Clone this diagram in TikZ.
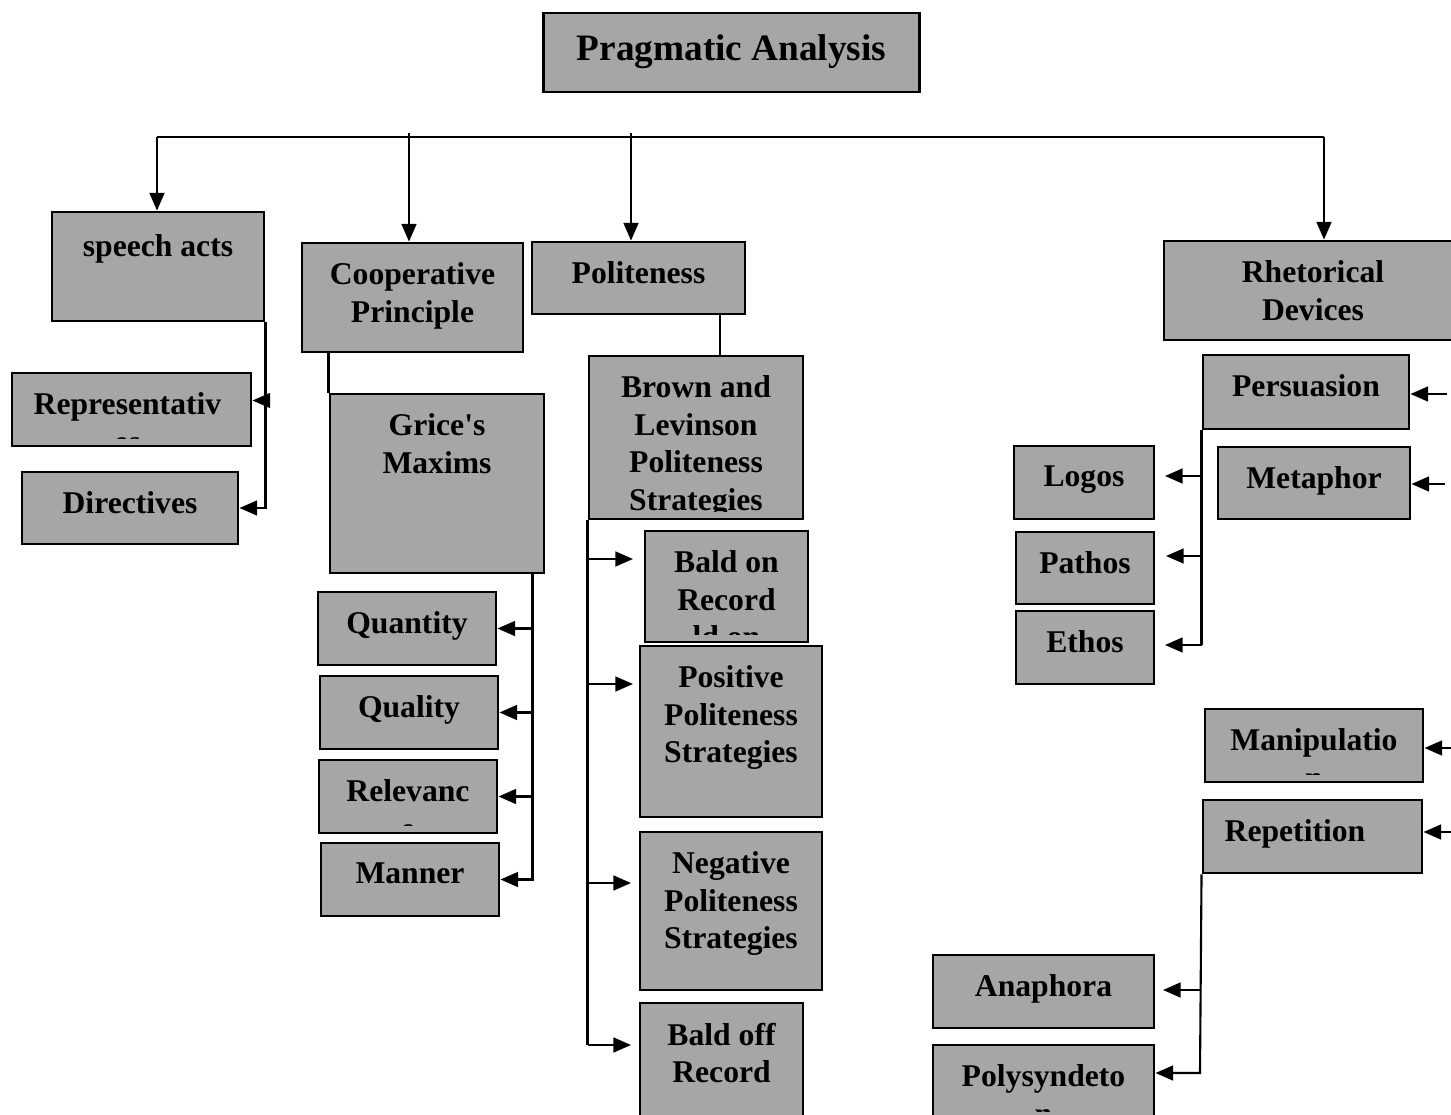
\documentclass[tikz,border=0pt]{standalone}
\usepackage{fontspec}
\setmainfont{Liberation Serif}
\usepackage{tikz}
\usetikzlibrary{arrows.meta}
\definecolor{boxgray}{RGB}{166,166,166}
\tikzset{
  box/.style={draw, fill=boxgray, line width=0.8pt, inner sep=0pt},
  boxtext/.style={font=\fontsize{9}{10.7}\selectfont\bfseries, align=center, inner sep=0pt, anchor=north},
  arr/.style={-{Triangle[length=5pt, width=4.2pt]}, line width=0.6pt},
  con/.style={line width=0.6pt}
}

\begin{document}
\begin{tikzpicture}[x=0.01cm, y=-0.01cm]
            \useasboundingbox (0,0) rectangle (1451,1115);
            \clip (0,0) rectangle (1451,1115);

            % Boxes
            \node[box, minimum width=3.75cm, minimum height=0.79cm] (pragma) at (731.5,52.5) {};
            \node[box, minimum width=2.12cm, minimum height=1.09cm] (speech) at (158,266.5) {};
            \node[box, minimum width=2.21cm, minimum height=1.09cm] (coop) at (412.5,297.5) {};
            \node[box, minimum width=2.13cm, minimum height=0.72cm] (polite) at (638.5,278) {};
            \node[box, minimum width=2.98cm, minimum height=0.99cm] (rhet) at (1313,290.5) {};

            \node[box, minimum width=2.39cm, minimum height=0.73cm] (repr) at (131.5,409.5) {};
            \node[box, minimum width=2.16cm, minimum height=0.72cm] (direct) at (130,508) {};

            \node[box, minimum width=2.14cm, minimum height=1.79cm] (grice) at (437,483.5) {};
            \node[box, minimum width=1.78cm, minimum height=0.73cm] (quantity) at (407,628.5) {};
            \node[box, minimum width=1.78cm, minimum height=0.73cm] (quality) at (409,712.5) {};
            \node[box, minimum width=1.78cm, minimum height=0.73cm] (relevance) at (408,796.5) {};
            \node[box, minimum width=1.78cm, minimum height=0.73cm] (manner) at (410,879.5) {};

            \node[box, minimum width=2.14cm, minimum height=1.63cm] (brown) at (696,437.5) {};
            \node[box, minimum width=1.63cm, minimum height=1.11cm] (baldon) at (726.5,586.5) {};
            \node[box, minimum width=1.82cm, minimum height=1.71cm] (positive) at (731,731.5) {};
            \node[box, minimum width=1.82cm, minimum height=1.58cm] (negative) at (731,911) {};
            \node[box, minimum width=1.63cm, minimum height=1.37cm] (baldoff) at (721.5,1071.5) {};

            \node[box, minimum width=2.06cm, minimum height=0.74cm] (persuade) at (1306,392) {};
            \node[box, minimum width=1.92cm, minimum height=0.72cm] (metaphor) at (1314,483) {};
            \node[box, minimum width=1.40cm, minimum height=0.73cm] (logos) at (1084,482.5) {};
            \node[box, minimum width=1.38cm, minimum height=0.72cm] (pathos) at (1085,568) {};
            \node[box, minimum width=1.38cm, minimum height=0.73cm] (ethos) at (1085,647.5) {};
            \node[box, minimum width=2.18cm, minimum height=0.73cm] (manip) at (1314,745.5) {};
            \node[box, minimum width=2.19cm, minimum height=0.73cm] (repet) at (1312.5,836.5) {};
            \node[box, minimum width=2.21cm, minimum height=0.73cm] (anaphora) at (1043.5,991.5) {};
            \node[box, minimum width=2.21cm, minimum height=0.95cm] (polysyn) at (1043.5,1092.5) {};

            % Texts
            \node[boxtext, font=\fontsize{10.6}{12.7}\selectfont\bfseries] (pragma-t) at ([yshift=-0.22cm]pragma.north) {Pragmatic Analysis};
            \node[boxtext] (speech-t) at ([yshift=-0.235cm]speech.north) {speech acts};
            \node[boxtext] (coop-t) at ([yshift=-0.205cm]coop.north) {Cooperative\\Principle};
            \node[boxtext] (polite-t) at ([yshift=-0.205cm]polite.north) {Politeness};
            \node[boxtext] (rhet-t) at ([yshift=-0.205cm]rhet.north) {Rhetorical\\Devices};
            \node[boxtext] (direct-t) at ([yshift=-0.205cm]direct.north) {Directives};
            \node[boxtext] (grice-t) at ([yshift=-0.205cm]grice.north) {Grice\textquotesingle s\\Maxims};
            \node[boxtext] (quantity-t) at ([yshift=-0.205cm]quantity.north) {Quantity};
            \node[boxtext] (quality-t) at ([yshift=-0.205cm]quality.north) {Quality};
            \node[boxtext] (manner-t) at ([yshift=-0.205cm]manner.north) {Manner};
            \node[boxtext] (positive-t) at ([yshift=-0.205cm]positive.north) {Positive\\Politeness\\Strategies};
            \node[boxtext] (negative-t) at ([yshift=-0.205cm]negative.north) {Negative\\Politeness\\Strategies};
            \node[boxtext] (baldoff-t) at ([yshift=-0.205cm]baldoff.north) {Bald off\\Record};
            \node[boxtext] (persuade-t) at ([yshift=-0.205cm]persuade.north) {Persuasion};
            \node[boxtext] (metaphor-t) at ([yshift=-0.205cm]metaphor.north) {Metaphor};
            \node[boxtext] (logos-t) at ([yshift=-0.205cm]logos.north) {Logos};
            \node[boxtext] (pathos-t) at ([yshift=-0.205cm]pathos.north) {Pathos};
            \node[boxtext] (ethos-t) at ([yshift=-0.205cm]ethos.north) {Ethos};
            \node[boxtext] (repet-t) at ([xshift=-0.175cm, yshift=-0.205cm]repet.north) {Repetition};
            \node[boxtext] (anaphora-t) at ([yshift=-0.205cm]anaphora.north) {Anaphora};

            % Texts that run past their boxes
            \begin{scope}
                \clip ([yshift=0.09cm]repr.south west) rectangle (repr.north east);
                \node[boxtext] (repr-t) at ([xshift=-0.04cm, yshift=-0.205cm]repr.north) {Representativ\\es};
            \end{scope}
            \begin{scope}
                \clip ([yshift=0.09cm]relevance.south west) rectangle (relevance.north east);
                \node[boxtext] (relevance-t) at ([yshift=-0.205cm]relevance.north) {Relevanc\\e};
            \end{scope}
            \begin{scope}
                \clip ([yshift=0.09cm]brown.south west) rectangle (brown.north east);
                \node[boxtext] (brown-t) at ([yshift=-0.205cm]brown.north) {Brown and\\Levinson\\Politeness\\Strategies};
            \end{scope}
            \begin{scope}
                \clip ([yshift=0.09cm]baldon.south west) rectangle (baldon.north east);
                \node[boxtext] (baldon-t) at ([yshift=-0.205cm]baldon.north) {Bald on\\Record\\ld on};
            \end{scope}
            \begin{scope}
                \clip ([yshift=0.09cm]manip.south west) rectangle (manip.north east);
                \node[boxtext] (manip-t) at ([yshift=-0.205cm]manip.north) {Manipulatio\\n};
            \end{scope}
            \begin{scope}
                \clip ([yshift=0.30cm]polysyn.south west) rectangle (polysyn.north east);
                \node[boxtext] (polysyn-t) at ([yshift=-0.205cm]polysyn.north) {Polysyndeto\\n};
            \end{scope}

            % Points
            \coordinate (d1) at (157,137);
            \coordinate (d2) at (409,133);
            \coordinate (d3) at (631,133);
            \coordinate (d4) at (1324,137);
            \coordinate (repr-in) at ([yshift=0.09cm]repr.east);
            \coordinate (gx) at ([xshift=-0.13cm]grice.south east);
            \coordinate (px) at ([xshift=0.24cm]brown.north);
            \coordinate (bon-in) at (633,559);
            \coordinate (pos-in) at (633,684);
            \coordinate (neg-in) at (631,883);
            \coordinate (boff-in) at (631,1045);
            \coordinate (pers-src) at (1447,394);
            \coordinate (meta-src) at (1445,484);
            \coordinate (manip-src) at (1451,748);
            \coordinate (repet-src) at (1451,832);
            \coordinate (logos-in) at (1165,476);
            \coordinate (pathos-in) at (1166,556);
            \coordinate (ethos-in) at (1165,645);
            \coordinate (rb) at (1200,1073);
            \coordinate (ana-in) at (1163,990);

            % Lines
            \draw[con] (d1) -- (d4);
            \draw[arr] (d1) -- (d1 |- speech.north);
            \draw[arr] (d2) -- (d2 |- coop.north);
            \draw[arr] (d3) -- (d3 |- polite.north);
            \draw[arr] (d4) -- (d4 |- rhet.north);

            \draw[arr] (speech.south east) |- (direct.east);
            \draw[arr] (speech.south east |- repr-in) -- (repr-in);

            \draw[con] (grice.north west) -- (grice.north west |- coop.south);
            \draw[arr] (gx) |- (manner.east);
            \draw[arr] (gx |- quantity.east) -- (quantity.east);
            \draw[arr] (gx |- quality.east) -- (quality.east);
            \draw[arr] (gx |- relevance.east) -- (relevance.east);

            \draw[con] (px) -- (px |- polite.south);
            \draw[con] (brown.south west) -- (brown.south west |- boff-in);
            \draw[arr] (brown.south west |- bon-in) -- (bon-in);
            \draw[arr] (brown.south west |- pos-in) -- (pos-in);
            \draw[arr] (brown.south west |- neg-in) -- (neg-in);
            \draw[arr] (brown.south west |- boff-in) -- (boff-in);

            \draw[arr] (pers-src) -- (pers-src -| persuade.east);
            \draw[arr] (meta-src) -- (meta-src -| metaphor.east);
            \draw[arr] (manip-src) -- (manip-src -| manip.east);
            \draw[arr] (repet-src) -- (repet-src -| repet.east);

            \draw[con] (persuade.south west) -- (persuade.south west |- ethos-in);
            \draw[arr] (persuade.south west |- logos-in) -- (logos-in);
            \draw[arr] (persuade.south west |- pathos-in) -- (pathos-in);
            \draw[arr] (persuade.south west |- ethos-in) -- (ethos-in);

            \draw[arr] (repet.south west) -- (rb) -- (rb -| polysyn.east);
            \draw[arr] (ana-in -| rb) -- (ana-in);
        \end{tikzpicture}
\end{document}
